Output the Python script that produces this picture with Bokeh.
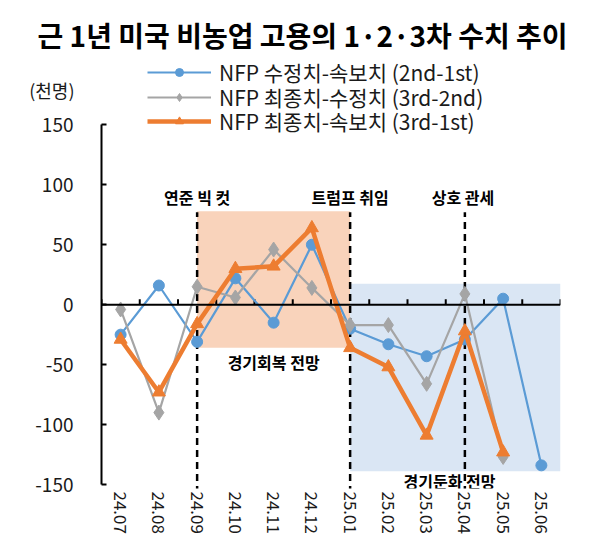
import numpy as np
from bokeh.plotting import figure
from bokeh.models import (Range1d, FixedTicker, Legend, LegendItem, Span,
                          ColumnDataSource, LinearAxis)
from bokeh.core.properties import value
from bokeh.embed import file_html
from bokeh.resources import INLINE

# ---------------- data ----------------
months = ["24.07", "24.08", "24.09", "24.10", "24.11", "24.12",
          "25.01", "25.02", "25.03", "25.04", "25.05", "25.06"]
rev_2nd_1st = [-25, 16, -31, 22, -15, 50, -20, -33, -43, -29, 5, -134]
fin_3rd_2nd = [-4, -90, 15, 6, 46, 14, -17, -17, -66, 9, -127, np.nan]
fin_3rd_1st = [-29, -73, -16, 30, 32, 64, -36, -52, -109, -22, -123, np.nan]

series_names = ["NFP 수정치-속보치 (2nd-1st)",
                "NFP 최종치-수정치 (3rd-2nd)",
                "NFP 최종치-속보치 (3rd-1st)"]

y_ticks = [-150, -100, -50, 0, 50, 100, 150]

# shaded periods: (start index, end index, bottom, top)
recovery_period = [2, 6, -36, 78]
slowdown_period = [6, 11.5, -139, 17.5]

# event markers (index) and labels
event_idx = [2, 6, 9]
event_text = ["연준 빅 컷", "트럼프 취임", "상호 관세"]
event_line_top = 77
event_line_bottom = -157
zone_text = ["경기회복 전망", "경기둔화 전망"]

title_text = "근 1년 미국 비농업 고용의 1·2·3차 수치 추이"
unit_text = "(천명)"

# ---------------- styles ----------------
BLUE = "#5B9BD5"
GRAY = "#A5A5A5"
ORANGE = "#ED7D31"
KFONT = "Noto Sans CJK KR"

x = list(range(len(months)))

p = figure(width=574, height=544, output_backend="svg", toolbar_location=None,
           x_range=Range1d(-0.5, 11.5), y_range=Range1d(-153.3, 212),
           min_border_left=101, min_border_right=14, min_border_top=50,
           min_border_bottom=56)
p.outline_line_color = None
p.xgrid.grid_line_color = None
p.ygrid.grid_line_color = None
p.background_fill_color = "white"

# title
p.title.text = title_text
p.title.align = "left"
p.title.offset = -64
p.title.standoff = -8
p.title.text_font = KFONT
p.title.text_font_style = "bold"
p.title.text_font_size = "28px"
p.title.text_color = "black"

# shaded regions
p.quad(left=[recovery_period[0]], right=[recovery_period[1]],
       bottom=[recovery_period[2]], top=[recovery_period[3]],
       fill_color="#F9D3BB", line_color=None)
p.quad(left=[slowdown_period[0]], right=[slowdown_period[1]],
       bottom=[slowdown_period[2]], top=[slowdown_period[3]],
       fill_color="#DAE6F4", line_color=None)

# zero line with category tick marks
p.add_layout(Span(location=0, dimension="width", line_color="black", line_width=2))
bounds = [i - 0.5 for i in range(len(months) + 1)]
p.segment(x0=bounds, y0=[0] * len(bounds), x1=bounds, y1=[4.5] * len(bounds),
          line_color="black", line_width=2)

# event dashed lines
p.segment(x0=event_idx, y0=[event_line_bottom] * 3, x1=event_idx,
          y1=[event_line_top] * 3,
          line_color="black", line_width=2.5, line_dash="7 5")

# series
r1l = p.line(x, rev_2nd_1st, line_color=BLUE, line_width=2.2)
r1m = p.scatter(x, rev_2nd_1st, marker="circle", size=11, fill_color=BLUE, line_color=BLUE)
r2l = p.line(x, fin_3rd_2nd, line_color=GRAY, line_width=2.2)
r2m = p.scatter(x, fin_3rd_2nd, marker="diamond", size=15, fill_color=GRAY, line_color=GRAY)
r3l = p.line(x, fin_3rd_1st, line_color=ORANGE, line_width=4.5)
r3m = p.scatter(x, fin_3rd_1st, marker="triangle", size=13, fill_color=ORANGE, line_color=ORANGE)

# legend: one row per legend box, stacked
legend_rows = [(series_names[0], [r1l, r1m]),
               (series_names[1], [r2l, r2m]),
               (series_names[2], [r3l, r3m])]
for k, (name, rends) in enumerate(legend_rows):
    lg = Legend(items=[LegendItem(label=name, renderers=rends)],
                location=(46, 401 - 24.5 * k), padding=0, spacing=0, margin=0,
                glyph_width=64, glyph_height=20, label_height=20,
                label_standoff=8, border_line_color=None, background_fill_alpha=0,
                label_text_font=KFONT, label_text_font_size="21px",
                label_text_color="#1a1a1a")
    p.add_layout(lg)

# event labels
src_ev = ColumnDataSource(dict(x=[2, 6, 8.95], y=[90, 90, 90], t=event_text))
p.text(x="x", y="y", text="t", source=src_ev, text_font=value(KFONT),
       text_font_style="bold", text_font_size="16px", text_align="center",
       text_baseline="middle", text_color="black")
src_zone = ColumnDataSource(dict(x=[4.0, 8.6], y=[-48, -147], t=zone_text))
p.text(x="x", y="y", text="t", source=src_zone, text_font=value(KFONT),
       text_font_style="bold", text_font_size="16px", text_align="center",
       text_baseline="middle", text_color="black")

# y axis
p.yaxis.ticker = FixedTicker(ticks=y_ticks)
p.yaxis.major_label_overrides = {t: str(t) for t in y_ticks}
p.yaxis.bounds = (-150, 150)
p.yaxis.axis_line_color = "black"
p.yaxis.axis_line_width = 2
p.yaxis.major_tick_in = 5
p.yaxis.major_tick_out = 0
p.yaxis.major_tick_line_width = 2
p.yaxis.minor_tick_line_color = None
p.yaxis.major_label_standoff = 28
p.yaxis.major_label_text_font = KFONT
p.yaxis.major_label_text_font_size = "19px"
p.yaxis.major_label_text_color = "#1a1a1a"

# unit label as an extra left axis carrying a single label
unit_pos = 179
unit_axis = LinearAxis(ticker=FixedTicker(ticks=[unit_pos]),
                       major_label_overrides={unit_pos: unit_text},
                       axis_line_color=None, major_tick_line_color=None,
                       major_tick_in=0, major_tick_out=0,
                       minor_tick_line_color=None, major_label_standoff=-42,
                       major_label_text_font=KFONT,
                       major_label_text_font_size="18px",
                       major_label_text_color="#1a1a1a")
p.add_layout(unit_axis, "left")

# x axis
p.xaxis.ticker = FixedTicker(ticks=x)
p.xaxis.major_label_overrides = {i: m for i, m in enumerate(months)}
p.xaxis.major_label_orientation = "vertical"
p.xaxis.axis_line_color = None
p.xaxis.major_tick_line_color = None
p.xaxis.major_tick_in = 0
p.xaxis.major_tick_out = 0
p.xaxis.minor_tick_line_color = None
p.xaxis.major_label_standoff = 3
p.xaxis.major_label_text_font = KFONT
p.xaxis.major_label_text_font_size = "17px"
p.xaxis.major_label_text_color = "#1a1a1a"

open("out.html", "w").write(file_html(p, INLINE))
